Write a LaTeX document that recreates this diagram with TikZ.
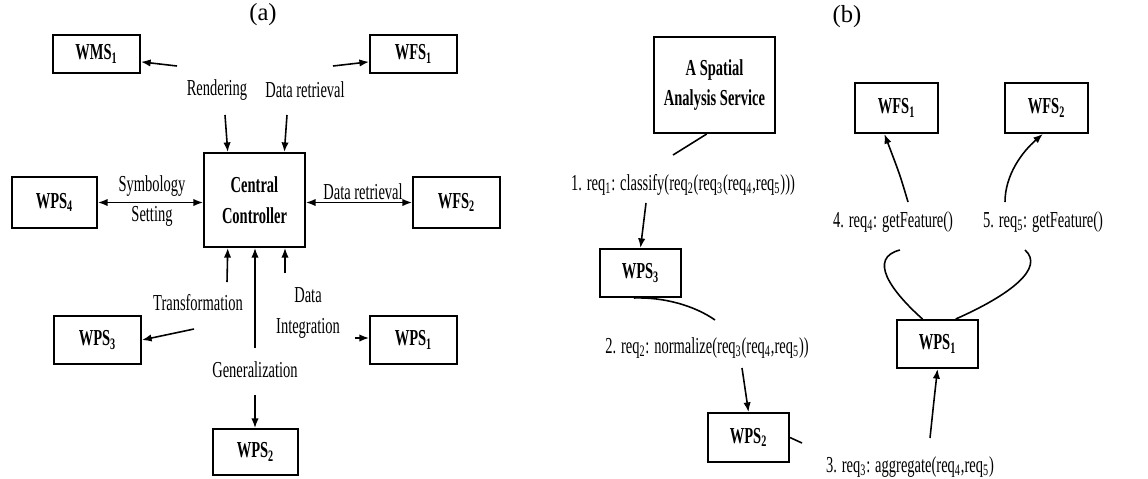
\documentclass[tikz,border=0pt]{standalone}
\usepackage{fontspec}
\setmainfont{Liberation Serif}[FakeStretch=0.635]
\newfontfamily\panelfont{Liberation Serif}
\usepackage{tikz}
\usetikzlibrary{positioning}
\usetikzlibrary{calc}
\usetikzlibrary{arrows.meta}
\tikzset{>={Latex[length=5.5pt,width=4.2pt]}}
\newcommand{\sbs}[1]{\textsubscript{#1}}

\begin{document}
\begin{tikzpicture}[x=0.02cm, y=-0.02cm,
  svc/.style={draw, line width=1.1pt, fill=white, align=center,
    font=\fontsize{13}{17.5}\selectfont\bfseries, inner sep=0pt},
  lbl/.style={font=\fontsize{13}{17.5}\selectfont, align=center, inner sep=2pt},
  panel/.style={font=\panelfont\fontsize{14}{16}\selectfont},
  conn/.style={->, line width=0.9pt},
  plain/.style={line width=0.9pt}]

\useasboundingbox (0,0) rectangle (1148,478);

% --- Panel titles ---
\node[panel] (titleA) at (263,15) {(a)};
\node[panel] (titleB) at (847,17) {(b)};

% --- (a) services round the controller ---
\node[svc, minimum width=1.74cm, minimum height=0.76cm] (wms1) at (96.5,54)    {WMS\sbs{1}};
\node[svc, minimum width=1.74cm, minimum height=0.76cm] (wfs1) at (413.5,54)   {WFS\sbs{1}};
\node[svc, minimum width=1.70cm, minimum height=1.02cm] (wps4) at (54.5,202.5) {WPS\sbs{4}};
\node[svc, minimum width=1.74cm, minimum height=1.02cm] (wfs2) at (456.5,202.5){WFS\sbs{2}};
\node[svc, minimum width=1.74cm, minimum height=0.96cm] (wps3) at (97.5,340)   {WPS\sbs{3}};
\node[svc, minimum width=1.74cm, minimum height=0.96cm] (wps1) at (413.5,340)  {WPS\sbs{1}};
\node[svc, minimum width=1.70cm, minimum height=0.92cm] (wps2) at (255.5,452)  {WPS\sbs{2}};
\node[svc, minimum width=2.02cm, minimum height=1.88cm] (cc)   at (254.5,200)  {Central\\Controller};

% --- (a) operation labels ---
\node[lbl] (rend)  at (217,90)  {Rendering};
\node[lbl] (retr1) at (305,90)  {Data retrieval};
\node[lbl] (symb)  at (152,201) {Symbology\\Setting};
\node[lbl] (retr2) at (363,192) {Data retrieval};
\node[lbl] (trans) at (198,303) {Transformation};
\node[lbl] (dint)  at (308,313) {Data\\Integration};
\node[lbl] (gen)   at (255,370) {Generalization};

% --- (a) connectors ---
\coordinate (rendW)  at (177,66);
\coordinate (retrE)  at (333,66);
\coordinate (rendS)  at (225,115);
\coordinate (retrS)  at (287,115);
\coordinate (transN) at (227,282);
\coordinate (transW) at (194,329);
\coordinate (dintN)  at (285,273);
\coordinate (dintE)  at (355,338);
\coordinate (genN)   at (255,348);
\coordinate (genS)   at (255,395);

\draw[conn] (rendW) -- (wms1.-10);
\draw[conn] (retrE) -- (wfs1.190);
\draw[conn] (rendS) -- ($(cc.north west)!0.24!(cc.north east)$);
\draw[conn] (retrS) -- ($(cc.north west)!0.79!(cc.north east)$);
\draw[conn, <->] (wps4.east) -- (wps4.east -| cc.west);
\draw[conn, <->] (cc.east |- wfs2.west) -- (wfs2.west);
\draw[conn] (transN) -- ($(cc.south west)!0.24!(cc.south east)$);
\draw[conn] (genN) -- (genN |- cc.south);
\draw[conn] (dintN) -- (dintN |- cc.south);
\draw[conn] (transW) -- (wps3.east);
\draw[conn] (dintE) -- (dintE -| wps1.west);
\draw[conn] (genS) -- (genS |- wps2.north);

% --- (b) services ---
\node[svc, minimum width=2.42cm, minimum height=1.92cm] (sas)   at (714.5,85)    {A Spatial\\Analysis Service};
\node[svc, minimum width=1.62cm, minimum height=0.96cm] (wps3b) at (640.5,273)   {WPS\sbs{3}};
\node[svc, minimum width=1.62cm, minimum height=0.98cm] (wps2b) at (748.5,437.5) {WPS\sbs{2}};
\node[svc, minimum width=1.66cm, minimum height=1.00cm] (wfs1b) at (896.5,108)   {WFS\sbs{1}};
\node[svc, minimum width=1.66cm, minimum height=1.00cm] (wfs2b) at (1046.5,108)  {WFS\sbs{2}};
\node[svc, minimum width=1.62cm, minimum height=0.96cm] (wps1b) at (937.5,344)   {WPS\sbs{1}};

% --- (b) requests ---
\node[lbl] (req1) at (683,185) {1. req\sbs{1}: classify(req\sbs{2}(req\sbs{3}(req\sbs{4},req\sbs{5})))};
\node[lbl] (req2) at (707,348) {2. req\sbs{2}: normalize(req\sbs{3}(req\sbs{4},req\sbs{5}))};
\node[lbl] (req3) at (910,467) {3. req\sbs{3}: aggregate(req\sbs{4},req\sbs{5})};
\node[lbl] (req4) at (893,222) {4. req\sbs{4}: getFeature()};
\node[lbl] (req5) at (1043,222) {5. req\sbs{5}: getFeature()};

% --- (b) connectors ---
\coordinate (req1N) at (673,155);
\coordinate (req1S) at (646,203);
\coordinate (req2N) at (715,320);
\coordinate (req2S) at (742,368);
\coordinate (tail)  at (802,443);
\coordinate (req4N) at (908,202);
\coordinate (req4S) at (900,250);
\coordinate (req5N) at (1005,202);
\coordinate (req5S) at (1025,250);
\coordinate (req3N) at (930,438);

\draw[plain] (sas.-99) -- (req1N);
\draw[conn] (req1S) -- (wps3b.north);
\draw[plain] (wps3b.-105) .. controls (665,297) and (695,306) .. (req2N);
\draw[conn] (req2S) -- (wps2b.north);
\draw[plain] (wps2b.east) -- (tail);
\draw[conn] (req4N) .. controls (900,175) .. (wfs1b.-115);
\draw[conn] (req5N) .. controls (1005,175) and (1022,152) .. (wfs2b.-98);
\draw[plain] (wps1b.121) .. controls (890,290) and (868,258) .. (req4S);
\draw[plain] (wps1b.54) .. controls (1010,295) and (1045,268) .. (req5S);
\draw[conn] (req3N) .. controls (934,400) .. (wps1b.south);

\end{tikzpicture}
\end{document}
